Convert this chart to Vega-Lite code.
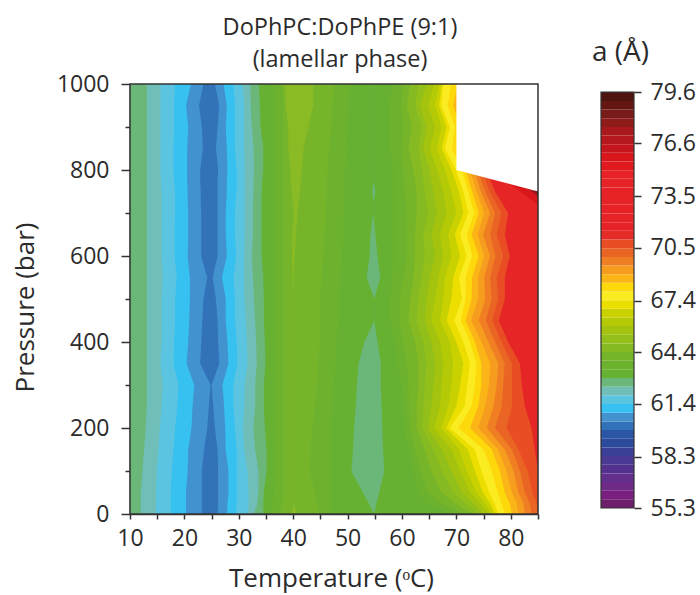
{"$schema":"https://vega.github.io/schema/vega-lite/v6.json","autosize":"none","padding":{"left":130,"top":84,"right":570,"bottom":511},"background":"white","spacing":52,"config":{"font":"Open Sans","view":{"stroke":null},"axis":{"labelFont":"Open Sans","titleFont":"Open Sans","labelColor":"#2b2b2b","titleColor":"#2b2b2b","tickColor":"#333333","domainColor":"#333333","grid":false},"title":{"font":"Open Sans","color":"#2b2b2b"}},"hconcat":[{"width":408,"height":430,"title":{"text":["DoPhPC:DoPhPE (9:1)","(lamellar phase)"],"fontSize":23.5,"fontWeight":"normal","lineHeight":32,"dx":6,"offset":2,"anchor":"middle"},"data":{"values":[
{"p":0,"b00":10,"b01":12.0,"b02":14.7,"b03":17.5,"b04":20.3,"b05":23.2,"b06":26.1,"b07":27.8,"b08":29.5,"b09":31.6,"b10":32.8,"b11":34.5,"b12":36.0,"b13":37.5,"b14":39.7,"b15":40.6,"b16":44.8,"b17":47,"b18":54.9,"b19":54.9,"b20":68.5,"b21":71.0,"b22":72.8,"b23":74.0,"b24":74.9,"b25":75.9,"b26":76.6,"b27":77.2,"b28":77.7,"b29":78.9,"b30":80.2,"b31":81.4,"b32":82.6,"b33":83.8,"b34":85,"b35":88,"b36":90,"b37":90,"b38":90,"b39":85},
{"p":25,"b00":10,"b01":12.0,"b02":14.8,"b03":17.5,"b04":20.3,"b05":23.2,"b06":26.2,"b07":27.9,"b08":29.6,"b09":31.8,"b10":33.4,"b11":34.5,"b12":36.3,"b13":38.0,"b14":40.2,"b15":40.2,"b16":44.4,"b17":47,"b18":53.9,"b19":55.3,"b20":64.8,"b21":67.3,"b22":69.7,"b23":71.6,"b24":73.1,"b25":74.3,"b26":75.3,"b27":76.2,"b28":77.0,"b29":78.3,"b30":79.8,"b31":81.1,"b32":82.3,"b33":83.5,"b34":84.75,"b35":87,"b36":90,"b37":90,"b38":90,"b39":85},
{"p":50,"b00":10,"b01":12.0,"b02":14.8,"b03":17.5,"b04":20.3,"b05":23.2,"b06":26.2,"b07":28.1,"b08":29.6,"b09":31.8,"b10":33.6,"b11":34.6,"b12":36.5,"b13":38.2,"b14":40,"b15":40,"b16":44,"b17":47,"b18":52.8,"b19":55.8,"b20":63.0,"b21":64.8,"b22":67.3,"b23":69.4,"b24":71.0,"b25":72.5,"b26":73.7,"b27":74.9,"b28":76.0,"b29":77.6,"b30":78.9,"b31":80.2,"b32":81.4,"b33":82.6,"b34":83.95,"b35":86,"b36":90,"b37":90,"b38":90,"b39":85},
{"p":100,"b00":10,"b01":12.3,"b02":14.9,"b03":17.7,"b04":20.6,"b05":23.2,"b06":26.2,"b07":28.1,"b08":29.6,"b09":31.6,"b10":33.6,"b11":35.1,"b12":36.5,"b13":38.2,"b14":40,"b15":40,"b16":43,"b17":47,"b18":50.7,"b19":56.75,"b20":62.1,"b21":63.5,"b22":65.4,"b23":67.3,"b24":69.1,"b25":70.7,"b26":71.9,"b27":73.4,"b28":74.6,"b29":76.5,"b30":78.0,"b31":79.2,"b32":80.5,"b33":81.7,"b34":83.1,"b35":85,"b36":90,"b37":90,"b38":90,"b39":85},
{"p":150,"b00":10,"b01":12.6,"b02":15.2,"b03":18.0,"b04":20.7,"b05":23.6,"b06":26.1,"b07":27.6,"b08":29.6,"b09":31.0,"b10":33.0,"b11":35.1,"b12":36.5,"b13":38.2,"b14":40,"b15":40,"b16":43.2,"b17":47,"b18":51,"b19":56.5,"b20":61.2,"b21":62.4,"b22":64.2,"b23":65.8,"b24":67.3,"b25":69.1,"b26":70.5,"b27":72.1,"b28":73.4,"b29":75.0,"b30":76.5,"b31":77.7,"b32":78.9,"b33":80.2,"b34":81.4,"b35":84.4,"b36":90,"b37":90,"b38":90,"b39":85},
{"p":200,"b00":10,"b01":12.9,"b02":15.5,"b03":18.3,"b04":21.3,"b05":24.2,"b06":25.6,"b07":27.5,"b08":29.3,"b09":30.8,"b10":32.7,"b11":34.8,"b12":36.5,"b13":38.2,"b14":40,"b15":40,"b16":43.5,"b17":47,"b18":51.2,"b19":56.4,"b20":60.5,"b21":61.5,"b22":62.7,"b23":63.7,"b24":64.8,"b25":65.9,"b26":67.2,"b27":68.1,"b28":68.8,"b29":70.4,"b30":72.5,"b31":74.0,"b32":75.6,"b33":77.1,"b34":79.2,"b35":83.8,"b36":90,"b37":90,"b38":90,"b39":85},
{"p":250,"b00":10,"b01":13.1,"b02":15.8,"b03":18.7,"b04":21.5,"b05":24.5,"b06":25.3,"b07":27.3,"b08":29.0,"b09":31.0,"b10":33.0,"b11":34.6,"b12":36.5,"b13":38.2,"b14":40,"b15":40,"b16":44,"b17":47.3,"b18":51.5,"b19":56.25,"b20":60.2,"b21":61.3,"b22":62.7,"b23":63.9,"b24":65.4,"b25":67.0,"b26":68.5,"b27":70.0,"b28":71.5,"b29":72.8,"b30":74.0,"b31":75.3,"b32":76.8,"b33":78.3,"b34":80.2,"b35":82.6,"b36":90,"b37":90,"b38":90,"b39":85},
{"p":300,"b00":10,"b01":13.1,"b02":16.0,"b03":18.9,"b04":21.8,"b05":24.8,"b06":25.0,"b07":27.0,"b08":29.0,"b09":31.1,"b10":33.0,"b11":34.6,"b12":36.5,"b13":38.2,"b14":40,"b15":40,"b16":44.4,"b17":47.5,"b18":51.7,"b19":56.1,"b20":59.9,"b21":61.2,"b22":63.0,"b23":64.2,"b24":65.8,"b25":67.3,"b26":69.1,"b27":70.7,"b28":72.0,"b29":73.4,"b30":74.6,"b31":76.0,"b32":77.4,"b33":78.6,"b34":80.2,"b35":82.0,"b36":90,"b37":90,"b38":90,"b39":85},
{"p":350,"b00":10,"b01":13.1,"b02":15.6,"b03":18.0,"b04":20.4,"b05":22.9,"b06":26.4,"b07":28.1,"b08":29.7,"b09":31.6,"b10":33.3,"b11":34.9,"b12":36.5,"b13":38.2,"b14":40,"b15":40,"b16":44.6,"b17":47.8,"b18":52,"b19":56.1,"b20":59.3,"b21":60.9,"b22":63.0,"b23":64.5,"b24":66.1,"b25":67.6,"b26":69.4,"b27":71.3,"b28":72.5,"b29":73.7,"b30":74.6,"b31":76.2,"b32":77.7,"b33":78.9,"b34":80.2,"b35":81.7,"b36":90,"b37":90,"b38":90,"b39":85},
{"p":400,"b00":10,"b01":13.1,"b02":15.8,"b03":18.1,"b04":20.7,"b05":23.1,"b06":26.2,"b07":27.9,"b08":29.6,"b09":31.5,"b10":33.2,"b11":34.8,"b12":36.5,"b13":38.2,"b14":40,"b15":40,"b16":44.9,"b17":48,"b18":53.1,"b19":55.5,"b20":58.7,"b21":60.2,"b22":62.4,"b23":63.9,"b24":65.4,"b25":67.0,"b26":68.8,"b27":70.0,"b28":71.3,"b29":72.5,"b30":73.4,"b31":74.6,"b32":75.9,"b33":77.1,"b34":78.3,"b35":79.5,"b36":90,"b37":90,"b38":90,"b39":85},
{"p":450,"b00":10,"b01":13.1,"b02":15.8,"b03":18.3,"b04":20.9,"b05":23.3,"b06":26.1,"b07":27.6,"b08":29.3,"b09":31.3,"b10":33.0,"b11":34.6,"b12":36.5,"b13":38.2,"b14":40,"b15":40,"b16":44.9,"b17":48.3,"b18":54.9,"b19":54.9,"b20":57.8,"b21":59.6,"b22":61.2,"b23":62.7,"b24":64.2,"b25":65.4,"b26":67.0,"b27":68.2,"b28":69.6,"b29":70.8,"b30":71.7,"b31":72.7,"b32":74.1,"b33":75.4,"b34":76.6,"b35":77.8,"b36":90,"b37":90,"b38":90,"b39":85},
{"p":500,"b00":10,"b01":13.1,"b02":15.8,"b03":18.3,"b04":21.0,"b05":23.5,"b06":25.8,"b07":27.6,"b08":29.3,"b09":31.0,"b10":32.8,"b11":34.6,"b12":36.5,"b13":38.2,"b14":40,"b15":40,"b16":44.9,"b17":48.5,"b18":54.9,"b19":54.9,"b20":57.8,"b21":59.6,"b22":61.5,"b23":63.0,"b24":64.5,"b25":66.1,"b26":67.6,"b27":69.1,"b28":71.0,"b29":71.7,"b30":72.8,"b31":74.0,"b32":75.3,"b33":76.5,"b34":77.7,"b35":78.9,"b36":90,"b37":90,"b38":90,"b39":85},
{"p":550,"b00":10,"b01":13.1,"b02":16.0,"b03":18.6,"b04":21.0,"b05":24.2,"b06":25.2,"b07":26.9,"b08":29.0,"b09":31.0,"b10":32.6,"b11":34.5,"b12":36.5,"b13":38.2,"b14":39.9,"b15":40.1,"b16":45.2,"b17":48.8,"b18":53.5,"b19":56,"b20":58.1,"b21":60.2,"b22":62.1,"b23":63.6,"b24":65.1,"b25":66.7,"b26":67.9,"b27":69.4,"b28":70.5,"b29":71.7,"b30":72.9,"b31":74.0,"b32":75.1,"b33":76.2,"b34":77.4,"b35":78.9,"b36":90,"b37":90,"b38":90,"b39":85},
{"p":600,"b00":10,"b01":13.1,"b02":15.8,"b03":18.2,"b04":20.6,"b05":23.1,"b06":26.1,"b07":27.8,"b08":29.5,"b09":31.0,"b10":32.4,"b11":34.2,"b12":36.5,"b13":38.2,"b14":39.8,"b15":40.3,"b16":45.5,"b17":49,"b18":54.05,"b19":55.5,"b20":58.4,"b21":60.9,"b22":62.4,"b23":64.2,"b24":66.1,"b25":67.6,"b26":69.1,"b27":70.7,"b28":71.9,"b29":72.9,"b30":74.1,"b31":75.1,"b32":76.2,"b33":77.2,"b34":78.6,"b35":79.8,"b36":90,"b37":90,"b38":90,"b39":85},
{"p":650,"b00":10,"b01":13.1,"b02":15.8,"b03":18.2,"b04":20.7,"b05":23.1,"b06":26.1,"b07":27.6,"b08":29.3,"b09":31.1,"b10":32.6,"b11":34.2,"b12":36.5,"b13":38.2,"b14":39.8,"b15":40.5,"b16":45.8,"b17":49.2,"b18":54.2,"b19":55.1,"b20":58.4,"b21":60.9,"b22":62.4,"b23":63.9,"b24":65.4,"b25":67.0,"b26":68.5,"b27":69.7,"b28":70.7,"b29":71.9,"b30":72.8,"b31":73.9,"b32":74.9,"b33":76.2,"b34":77.4,"b35":78.9,"b36":90,"b37":90,"b38":90,"b39":85},
{"p":700,"b00":10,"b01":13.1,"b02":15.8,"b03":18.3,"b04":20.7,"b05":23.1,"b06":26.1,"b07":27.6,"b08":29.3,"b09":31.1,"b10":32.6,"b11":34.2,"b12":36.5,"b13":38.2,"b14":40.1,"b15":40.8,"b16":46,"b17":49.3,"b18":54.7,"b19":54.7,"b20":58.4,"b21":60.9,"b22":62.7,"b23":64.8,"b24":66.4,"b25":68.2,"b26":70.0,"b27":71.3,"b28":72.2,"b29":73.3,"b30":74.1,"b31":75.1,"b32":76.2,"b33":77.1,"b34":78.3,"b35":79.5,"b36":87,"b37":89,"b38":90,"b39":85},
{"p":725,"b00":10,"b01":13.1,"b02":15.8,"b03":18.3,"b04":20.6,"b05":23.0,"b06":26.1,"b07":27.7,"b08":29.4,"b09":31.1,"b10":32.6,"b11":34.2,"b12":36.5,"b13":38.2,"b14":39.9,"b15":41.0,"b16":46.1,"b17":49.4,"b18":54.8,"b19":54.8,"b20":58.4,"b21":60.7,"b22":62.7,"b23":64.5,"b24":66.1,"b25":67.9,"b26":69.5,"b27":70.9,"b28":71.7,"b29":72.7,"b30":73.5,"b31":74.4,"b32":75.3,"b33":76.2,"b34":77.2,"b35":78.3,"b36":84.4,"b37":86,"b38":87,"b39":85},
{"p":750,"b00":10,"b01":13.1,"b02":15.8,"b03":18.3,"b04":20.6,"b05":23.0,"b06":26.1,"b07":27.8,"b08":29.6,"b09":31.1,"b10":32.7,"b11":34.2,"b12":36.5,"b13":38.2,"b14":39.7,"b15":41.25,"b16":46.2,"b17":49.5,"b18":54.5,"b19":55.1,"b20":58.4,"b21":60.5,"b22":62.7,"b23":64.2,"b24":65.8,"b25":67.6,"b26":69.1,"b27":70.5,"b28":71.3,"b29":72.2,"b30":72.9,"b31":73.7,"b32":74.5,"b33":75.3,"b34":76.2,"b35":77.1,"b36":81.7,"b37":83.8,"b38":84.4,"b39":85},
{"p":775,"b00":10,"b01":13.1,"b02":15.7,"b03":18.1,"b04":20.5,"b05":22.9,"b06":26.1,"b07":27.8,"b08":29.6,"b09":31.1,"b10":32.7,"b11":34.3,"b12":36.5,"b13":38.2,"b14":39.6,"b15":41.4,"b16":46.2,"b17":49.5,"b18":54.8,"b19":54.8,"b20":58.4,"b21":60.3,"b22":62.4,"b23":63.9,"b24":65.4,"b25":67.0,"b26":68.5,"b27":69.8,"b28":70.6,"b29":71.6,"b30":72.3,"b31":73.1,"b32":73.9,"b33":74.6,"b34":75.4,"b35":76.3,"b36":79,"b37":81,"b38":82,"b39":77.5},
{"p":800,"b00":10,"b01":13.1,"b02":15.6,"b03":18.0,"b04":20.5,"b05":22.9,"b06":26.2,"b07":27.9,"b08":29.6,"b09":31.1,"b10":32.8,"b11":34.5,"b12":36.5,"b13":38.2,"b14":39.5,"b15":41.6,"b16":46.3,"b17":49.6,"b18":54.8,"b19":54.8,"b20":58.4,"b21":60.2,"b22":62.1,"b23":63.7,"b24":65.1,"b25":66.4,"b26":67.9,"b27":69.1,"b28":69.9,"b29":71.0,"b30":71.7,"b31":72.5,"b32":73.3,"b33":74.0,"b34":74.6,"b35":75.6,"b36":75.7,"b37":78.3,"b38":79.5,"b39":70},
{"p":850,"b00":10,"b01":13.1,"b02":15.6,"b03":18.0,"b04":20.5,"b05":23.4,"b06":25.8,"b07":27.8,"b08":29.3,"b09":31.0,"b10":32.7,"b11":34.5,"b12":36.5,"b13":38.2,"b14":39.1,"b15":41.9,"b16":46.6,"b17":49.8,"b18":54.8,"b19":54.8,"b20":57.8,"b21":59.9,"b22":61.2,"b23":63.0,"b24":63.9,"b25":65.1,"b26":66.4,"b27":67.3,"b28":67.9,"b29":69.2,"b30":70.4,"b31":71.3,"b32":72.2,"b33":73.1,"b34":74.0,"b35":75,"b36":80,"b37":80,"b38":80,"b39":70},
{"p":900,"b00":10,"b01":13.1,"b02":15.6,"b03":18.1,"b04":20.7,"b05":23.2,"b06":26.1,"b07":27.6,"b08":29.3,"b09":31.0,"b10":32.4,"b11":34.0,"b12":36.5,"b13":38.2,"b14":39.1,"b15":42.8,"b16":47,"b17":50,"b18":54.8,"b19":54.8,"b20":57.8,"b21":60.2,"b22":61.8,"b23":63.6,"b24":64.5,"b25":66.1,"b26":67.3,"b27":68.2,"b28":68.8,"b29":69.7,"b30":70.7,"b31":71.6,"b32":72.5,"b33":73.4,"b34":74.3,"b35":75.2,"b36":80,"b37":80,"b38":80,"b39":70},
{"p":950,"b00":10,"b01":13.1,"b02":15.6,"b03":18.1,"b04":20.3,"b05":22.7,"b06":26.4,"b07":27.8,"b08":29.3,"b09":31.0,"b10":32.2,"b11":33.9,"b12":36.5,"b13":38.2,"b14":38.6,"b15":43.7,"b16":47.3,"b17":50.2,"b18":54.8,"b19":54.8,"b20":57.8,"b21":59.9,"b22":60.9,"b23":62.4,"b24":63.3,"b25":64.8,"b26":66.1,"b27":66.8,"b28":67.2,"b29":68.4,"b30":69.4,"b31":70.4,"b32":71.3,"b33":72.2,"b34":73.1,"b35":74.0,"b36":80,"b37":80,"b38":80,"b39":70},
{"p":1000,"b00":10,"b01":13.1,"b02":15.6,"b03":18.3,"b04":21.2,"b05":23.5,"b06":25.6,"b07":27.2,"b08":29.0,"b09":30.7,"b10":32.1,"b11":33.7,"b12":36.5,"b13":38.0,"b14":38.5,"b15":43.7,"b16":47.5,"b17":50.5,"b18":54.8,"b19":54.8,"b20":58.1,"b21":60.2,"b22":61.5,"b23":63.0,"b24":64.5,"b25":65.9,"b26":66.8,"b27":67.3,"b28":67.6,"b29":69.0,"b30":70.2,"b31":70.5,"b32":71,"b33":71.5,"b34":72,"b35":72.5,"b36":80,"b37":80,"b38":80,"b39":70}
]},"layer":[{"transform":[{"fold":["b00","b01","b02","b03","b04","b05","b06","b07","b08","b09","b10","b11","b12","b13","b14","b15","b16","b17","b18","b19","b20","b21","b22","b23","b24","b25","b26","b27","b28","b29","b30","b31","b32","b33","b34","b35","b36","b37","b38","b39"],"as":["band","t"]}],"mark":{"type":"area","orient":"horizontal","clip":true,"interpolate":"linear"},"encoding":{"x":{"field":"t","type":"quantitative","scale":{"domain":[10,85],"nice":false,"zero":false},"axis":{"values":[10,15,20,25,30,35,40,45,50,55,60,65,70,75,80,85],"labelExpr":"datum.value % 10 ? '' : datum.label","tickSize":5,"tickWidth":1.5,"domainWidth":1.5,"labelFontSize":23,"labelPadding":8,"title":"Temperature (ᵒC)","titleFontSize":26,"titleFontWeight":"normal","titlePadding":15,"titleX":201,"labelFlush":false,"labelOverlap":false}},"x2":{"datum":85},"y":{"field":"p","type":"quantitative","scale":{"domain":[0,1000],"nice":false},"axis":{"values":[0,100,200,300,400,500,600,700,800,900,1000],"format":"d","labelExpr":"datum.value % 200 ? '' : datum.label","tickSize":{"condition":{"test":"datum.value % 200 !== 0","value":5},"value":9},"tickWidth":1.5,"domainWidth":1.5,"labelFontSize":23,"labelPadding":12,"title":"Pressure (bar)","titleFontSize":26,"titleFontWeight":"normal","titlePadding":18,"titleY":223,"labelOverlap":false,"labelFlush":false}},"color":{"field":"band","type":"nominal","legend":null,"scale":{"domain":["b00","b01","b02","b03","b04","b05","b06","b07","b08","b09","b10","b11","b12","b13","b14","b15","b16","b17","b18","b19","b20","b21","b22","b23","b24","b25","b26","b27","b28","b29","b30","b31","b32","b33","b34","b35","b36","b37","b38","b39"],"range":["#6bb77a","#6fbfb8","#5bc4e0","#36c1f0","#4292cf","#3272b8","#4292cf","#36c1f0","#5bc4e0","#6fbfb8","#6bb77a","#66b032","#6db22e","#76b52a","#8aba24","#76b52a","#6db22e","#66b032","#6bb77a","#66b032","#6db22e","#76b52a","#85ba22","#93bf1a","#a3c30e","#b5ca06","#c9d200","#ecdf00","#fbec21","#fdd80a","#fbb516","#f69c1e","#ef7f22","#ea6424","#e84d24","#e52526","#d9161c","#a9181c","#641612","#ffffff"]}}}},{"data":{"values":[{"frame":1}]},"mark":{"type":"rect","fill":null,"stroke":"#333333","strokeWidth":1.5},"encoding":{}}]},{"width":33,"height":430,"title":{"text":"a (Å)","fontSize":28,"fontWeight":"normal","offset":14,"dx":3,"anchor":"middle"},"data":{"values":[{"lo":55.30,"hi":55.81,"k":0},{"lo":55.81,"hi":56.31,"k":1},{"lo":56.31,"hi":56.82,"k":2},{"lo":56.82,"hi":57.32,"k":3},{"lo":57.32,"hi":57.83,"k":4},{"lo":57.83,"hi":58.34,"k":5},{"lo":58.34,"hi":58.84,"k":6},{"lo":58.84,"hi":59.35,"k":7},{"lo":59.35,"hi":59.85,"k":8},{"lo":59.85,"hi":60.36,"k":9},{"lo":60.36,"hi":60.87,"k":10},{"lo":60.87,"hi":61.37,"k":11},{"lo":61.37,"hi":61.88,"k":12},{"lo":61.88,"hi":62.38,"k":13},{"lo":62.38,"hi":62.89,"k":14},{"lo":62.89,"hi":63.40,"k":15},{"lo":63.40,"hi":63.90,"k":16},{"lo":63.90,"hi":64.41,"k":17},{"lo":64.41,"hi":64.91,"k":18},{"lo":64.91,"hi":65.42,"k":19},{"lo":65.42,"hi":65.93,"k":20},{"lo":65.93,"hi":66.43,"k":21},{"lo":66.43,"hi":66.94,"k":22},{"lo":66.94,"hi":67.44,"k":23},{"lo":67.44,"hi":67.95,"k":24},{"lo":67.95,"hi":68.46,"k":25},{"lo":68.46,"hi":68.96,"k":26},{"lo":68.96,"hi":69.47,"k":27},{"lo":69.47,"hi":69.97,"k":28},{"lo":69.97,"hi":70.48,"k":29},{"lo":70.48,"hi":70.99,"k":30},{"lo":70.99,"hi":71.49,"k":31},{"lo":71.49,"hi":72.00,"k":32},{"lo":72.00,"hi":72.50,"k":33},{"lo":72.50,"hi":73.01,"k":34},{"lo":73.01,"hi":73.52,"k":35},{"lo":73.52,"hi":74.02,"k":36},{"lo":74.02,"hi":74.53,"k":37},{"lo":74.53,"hi":75.03,"k":38},{"lo":75.03,"hi":75.54,"k":39},{"lo":75.54,"hi":76.05,"k":40},{"lo":76.05,"hi":76.55,"k":41},{"lo":76.55,"hi":77.06,"k":42},{"lo":77.06,"hi":77.56,"k":43},{"lo":77.56,"hi":78.07,"k":44},{"lo":78.07,"hi":78.58,"k":45},{"lo":78.58,"hi":79.08,"k":46},{"lo":79.08,"hi":79.60,"k":47}]},"layer":[{"mark":{"type":"rect"},"encoding":{"y":{"field":"lo","type":"quantitative","scale":{"domain":[54.95,80.07],"nice":false,"zero":false},"axis":{"orient":"right","values":[55.3,58.3,61.4,64.4,67.4,70.5,73.5,76.6,79.6],"format":".1f","domain":false,"tickSize":7,"tickWidth":1.5,"labelFontSize":23,"labelPadding":9,"title":null,"labelOverlap":false,"labelFlush":false}},"y2":{"field":"hi"},"color":{"field":"k","type":"ordinal","legend":null,"scale":{"domain":[0,1,2,3,4,5,6,7,8,9,10,11,12,13,14,15,16,17,18,19,20,21,22,23,24,25,26,27,28,29,30,31,32,33,34,35,36,37,38,39,40,41,42,43,44,45,46,47],"range":["#6d1f6b","#7a1e80","#6f2a87","#632f8c","#55318f","#4a3a93","#3b3f95","#2e4a9c","#2b55a5","#3272b8","#4292cf","#36c1f0","#5bc4e0","#6fbfb8","#6bb77a","#66b032","#6db22e","#76b52a","#85ba22","#93bf1a","#a3c30e","#b5ca06","#c9d200","#ecdf00","#fbec21","#fdd80a","#fbb516","#f69c1e","#ef7f22","#ea6424","#e84d24","#e52b26","#e62226","#e62327","#e62226","#e62327","#e62226","#e62327","#e62226","#e0191f","#d9161c","#c4161c","#b6171c","#a9181c","#8e1a1a","#7a1a18","#641612","#4f1410"]}}}},{"data":{"values":[{"lo":55.3,"hi":79.6}]},"mark":{"type":"rect","fill":null,"stroke":"#333333","strokeWidth":1.2},"encoding":{"y":{"field":"lo","type":"quantitative"},"y2":{"field":"hi"}}}],"resolve":{"scale":{"color":"independent"}}}],"resolve":{"scale":{"color":"independent"}}}
